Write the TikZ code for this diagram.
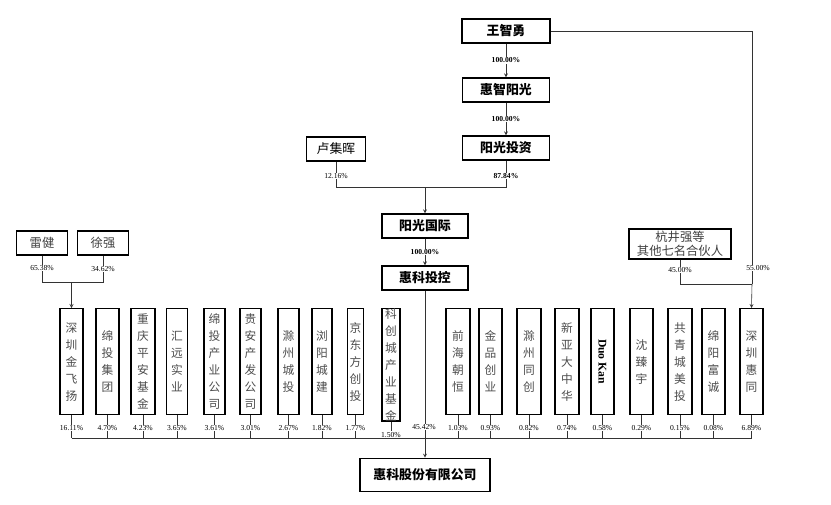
\documentclass[tikz,border=0pt]{standalone}
\usepackage{fontspec}
\newfontfamily\cjk{Noto Sans CJK SC}
\setmainfont{Liberation Serif}
\begin{document}
\begin{tikzpicture}[x=0.03cm,y=-0.03cm,
  top/.style={draw,line width=1.2pt,font=\cjk\bfseries\fontsize{11}{13}\selectfont,inner sep=0pt,minimum height=0.72cm},
  vb/.style={draw,line width=1.1pt,font=\cjk\fontsize{10}{14.5}\selectfont,text=black!70,align=center,inner sep=0pt,minimum height=3.18cm,minimum width=0.68cm,anchor=north},
  pc/.style={font=\fontsize{6.5}{7}\selectfont,fill=white,inner sep=0.5pt},
  pcb/.style={pc,font=\bfseries\fontsize{6.5}{7}\selectfont},
  ln/.style={draw=black!80,line width=0.5pt},
  ar/.style={ln,-stealth}]
\useasboundingbox (0,0) rectangle (831,505);
% top chain
\node[top,minimum width=2.64cm] (w) at (506,31) {王智勇};
\node[top,minimum width=2.61cm] (hz) at (506,90) {惠智阳光};
\node[top,minimum width=2.61cm] (yt) at (506,148) {阳光投资};
\node[top,font=\cjk\fontsize{11}{13}\selectfont,line width=1pt,minimum width=1.77cm] (lj) at (336,149) {卢集晖};
\node[top,minimum width=2.58cm] (yg) at (425,226) {阳光国际};
\node[top,minimum width=2.58cm] (hk) at (425,278) {惠科投控};
\node[top,font=\cjk\fontsize{10.5}{12}\selectfont,line width=1pt,align=center,minimum width=3.06cm,minimum height=0.9cm,text=black!75] (hj) at (680,244) {杭井强等\\其他七名合伙人};
\node[top,font=\cjk\fontsize{10.5}{13}\selectfont,line width=1pt,minimum width=1.53cm,text=black!75] (lei) at (42,243) {雷健};
\node[top,font=\cjk\fontsize{10.5}{13}\selectfont,line width=1pt,minimum width=1.53cm,text=black!75] (xu) at (103,243) {徐强};
\node[top,minimum width=3.9cm,minimum height=1cm] (gf) at (425,475) {惠科股份有限公司};
% vertical boxes
\newcommand{\vertbox}[4]{\node[vb,minimum width=#2] (#1) at (#3,308) {#4};}
\vertbox{b1}{0.69cm}{71.5}{深\\圳\\金\\飞\\扬}
\vertbox{b2}{0.69cm}{107.5}{绵\\投\\集\\团}
\vertbox{b3}{0.72cm}{143}{重\\庆\\平\\安\\基\\金}
\vertbox{b4}{0.62cm}{177}{汇\\远\\实\\业}
\vertbox{b5}{0.63cm}{214.5}{绵\\投\\产\\业\\公\\司}
\vertbox{b6}{0.63cm}{250.5}{贵\\安\\产\\发\\公\\司}
\vertbox{b7}{0.63cm}{288.5}{滁\\州\\城\\投}
\vertbox{b8}{0.6cm}{322}{浏\\阳\\城\\建}
\vertbox{b9}{0.48cm}{355.5}{京\\东\\方\\创\\投}
\vertbox{b10}{0.54cm}{391}{科\\创\\城\\产\\业\\基\\金}
\vertbox{b11}{0.72cm}{458}{前\\海\\朝\\恒}
\vertbox{b12}{0.69cm}{490.5}{金\\品\\创\\业}
\vertbox{b13}{0.72cm}{529}{滁\\州\\同\\创}
\vertbox{b14}{0.72cm}{567}{新\\亚\\大\\中\\华}
\node[vb,minimum width=0.69cm] (b15) at (602.5,308) {};
\node[rotate=-90,font=\bfseries\fontsize{10}{12}\selectfont] at (b15.center) {Duo Kan};
\vertbox{b16}{0.69cm}{641.5}{沈\\臻\\宇}
\vertbox{b17}{0.72cm}{680}{共\\青\\城\\美\\投}
\vertbox{b18}{0.69cm}{713.5}{绵\\阳\\富\\诚}
\vertbox{b19}{0.69cm}{751.5}{深\\圳\\惠\\同}
% top connectors
\draw[ar] (w) -- node[pcb]{100.00\%} (hz);
\draw[ar] (hz) -- node[pcb]{100.00\%} (yt);
\coordinate (j1) at (425,187);
\draw[ln] (yt.south) -- (yt.south|-j1) -| (lj.south);
\draw[ar] (j1) -- (yg);
\node[pcb] at (506,176) {87.84\%};
\node[pc] at (336,176) {12.16\%};
\draw[ar] (yg) -- node[pcb]{100.00\%} (hk);
% right branch
\coordinate (r1) at (752,31);
\coordinate (r2) at (752,284);
\draw[ln] (w.east) -- (r1) -- (r2);
\draw[ar] (r2) -- (b19.north);
\draw[ln] (hj.south) -- (hj.south|-r2) -- (r2);
\node[pc] at (680,270) {45.00\%};
\node[pc] at (758,268) {55.00\%};
% left branch
\coordinate (l1) at (71.5,282);
\draw[ln] (lei.south) -- (lei.south|-l1) -- (xu.south|-l1) -- (xu.south);
\node[pc] at (42,268) {65.38\%};
\node[pc] at (103,269) {34.62\%};
\draw[ar] (l1) -- (b1.north);
% bus
\coordinate (bus) at (425,438);
\draw[ln] (71.5,438) -- (751.5,438);
\foreach \b/\p in {b1/16.11,b2/4.70,b3/4.23,b4/3.65,b5/3.61,b6/3.01,b7/2.67,b8/1.82,b9/1.77,b10/1.50,b11/1.03,b12/0.93,b13/0.82,b14/0.74,b15/0.58,b16/0.29,b17/0.15,b18/0.08,b19/6.89}{
  \draw[ln] (\b.south) -- (\b.south|-bus);
  \node[pc] at ([yshift=-0.39cm]\b.south) {\p\%};
}
\draw[ln] (hk.south) -- (bus);
\node[pc] at (424,427) {45.42\%};
\draw[ar] (bus) -- (gf.north);
\end{tikzpicture}
\end{document}
